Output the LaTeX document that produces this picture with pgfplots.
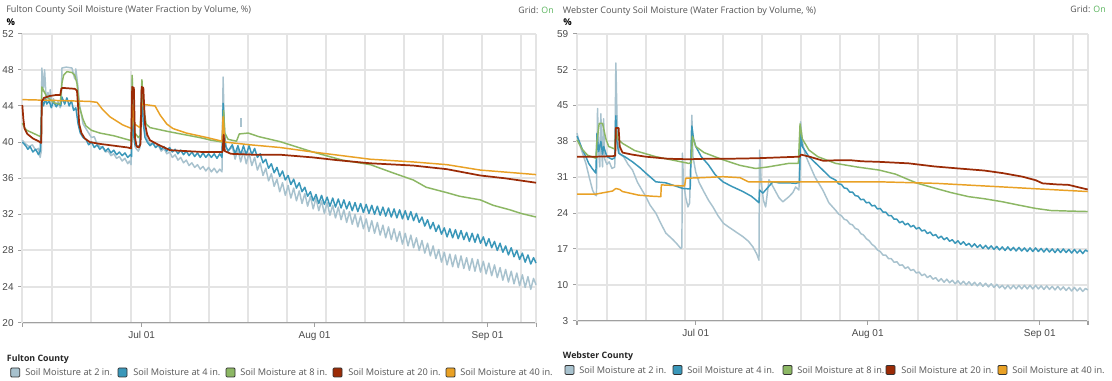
\documentclass[border=0pt]{standalone}
\usepackage{pgfplots}
\pgfplotsset{compat=1.18}
\usepackage{fontspec}
\setmainfont{Open Sans}
\newfontfamily\tickfont{Liberation Sans}
\definecolor{cA}{HTML}{A8C2CE}
\definecolor{cB}{HTML}{3A97B9}
\definecolor{cC}{HTML}{8CB764}
\definecolor{cD}{HTML}{9B2B06}
\definecolor{cE}{HTML}{E9A125}
\definecolor{gridc}{HTML}{E4E4E4}
\definecolor{axc}{HTML}{A0A0A0}
\definecolor{tickc}{HTML}{4A4A4A}
\definecolor{titc}{HTML}{555555}
\definecolor{ongreen}{HTML}{5BB55E}
\definecolor{swb}{HTML}{333333}
\pgfplotsset{soil/.style={
  scale only axis, anchor=south west,
  axis x line*=bottom, axis y line*=left,
  xmin=-21.4, xmax=70.7,
  xtick={0,31,62}, xticklabels={Jul 01,Aug 01,Sep 01},
  minor xtick={-16,-9,-2,5,12,19,26,33,40,47,54,61,68},
  xminorgrids=true, ymajorgrids=true,
  grid style={draw=gridc, line width=1.5pt},
  minor grid style={draw=gridc, line width=1.5pt},
  major grid style={draw=gridc, line width=1.5pt},
  axis line style={draw=axc, line width=1.1pt},
  tick style={draw=axc, line width=0.8pt},
  major tick length=3pt, minor tick length=0pt,
  tick align=outside,
  extra x ticks={-21.4,70.7}, extra x tick labels={},
  extra x tick style={xmajorgrids=true, major grid style={draw=gridc, line width=1.5pt}},
  ticklabel style={font=\tickfont\fontsize{7.5}{9}\selectfont, text=tickc},
  /pgf/number format/assume math mode=true,
  every axis plot/.append style={line width=1.1pt, line join=round, no marks},
  clip=false,
}}
\begin{document}
\begin{tikzpicture}
\path[use as bounding box, fill=white] (0pt,0pt) rectangle (834pt,285.75pt);
% ---------------- left chart ----------------
\begin{axis}[soil, at={(16.725pt,43.725pt)}, width=385.3pt, height=216.75pt,
  ymin=20, ymax=52, ytick={20,24,28,32,36,40,44,48,52}]
\pgfplotsinvokeforeach{24,28,32,36,40,44,48,52}{\draw[gridc, line width=1.5pt] (axis cs:-21.4,#1) -- (axis cs:70.7,#1);}
\draw[gridc, line width=1.5pt] (axis cs:70.7,20) -- (axis cs:70.7,52);
\addplot[cA] coordinates {(-21.4,40.2) (-20.8,39.8) (-20.2,39.5) (-19.6,39.7) (-19.0,39.1) (-18.5,39.3) (-18.2,38.3) (-18.0,39.0) (-17.9,48.2) (-17.6,46.0) (-17.4,48.0) (-17.1,44.5) (-16.8,45.5) (-16.5,44.3) (-16.4,45.8) (-16.1,44.2) (-15.8,44.8) (-15.4,44.0) (-15.0,44.5) (-14.6,43.8) (-14.4,44.6) (-14.3,48.2) (-13.5,48.3) (-12.5,48.2) (-12.0,47.0) (-11.8,48.1) (-11.4,46.0) (-11.1,44.0) (-10.5,42.0) (-10.0,41.5) (-9.5,41.0) (-9.0,40.5) (-8.5,40.6) (-8.0,39.8) (-7.5,39.5) (-7.0,39.4) (-6.5,38.9) (-6.0,39.0) (-5.5,38.5) (-5.0,38.7) (-4.5,38.2) (-4.0,38.4) (-3.5,37.9) (-3.0,38.2) (-2.5,37.6) (-2.2,37.9) (-1.9,37.5) (-1.7,47.0) (-1.5,42.0) (-1.2,39.5) (-0.9,39.2) (-0.6,39.0) (-0.3,39.4) (0.0,46.5) (0.2,44.0) (0.5,41.5) (1.0,40.3) (1.5,39.8) (2.0,39.9) (2.5,39.4) (3.0,39.6) (3.5,39.0) (4.0,39.3) (4.5,38.7) (5.0,38.9) (5.5,38.3) (6.0,38.6) (6.5,38.0) (7.0,38.3) (7.5,37.7) (8.0,38.0) (8.5,37.4) (9.0,37.7) (9.5,37.2) (10.0,37.5) (10.5,37.0) (11.0,37.3) (11.5,36.8) (12.0,37.2) (12.5,36.7) (13.0,37.1) (13.5,36.6) (14.0,37.0) (14.4,36.7) (14.6,47.2) (14.8,42.0) (15.1,39.5) (15.5,39.0)
(16.25,39.5) (16.75,38.1) (17.25,39.2) (17.75,37.8) (18.25,39.0) (18.75,37.6) (19.25,38.8) (19.75,37.4) (20.25,38.3) (20.75,36.9) (21.25,37.7) (21.75,36.3) (22.25,37.1) (22.75,35.7) (23.25,36.5) (23.75,35.1) (24.25,35.9) (24.75,34.5) (25.25,35.5) (25.75,34.1) (26.25,35.2) (26.75,33.8) (27.25,34.9) (27.75,33.5) (28.25,34.6) (28.75,33.2) (29.25,34.3) (29.75,32.9) (30.25,34.0) (30.75,32.6) (31.25,33.8) (31.75,32.4) (32.25,33.5) (32.75,32.1) (33.25,33.3) (33.75,31.9) (34.25,33.0) (34.75,31.6) (35.25,32.8) (35.75,31.4) (36.25,32.5) (36.75,31.1) (37.25,32.3) (37.75,30.9) (38.25,32.0) (38.75,30.6) (39.25,31.8) (39.75,30.4) (40.25,31.5) (40.75,30.1) (41.25,31.3) (41.75,29.9) (42.25,31.1) (42.75,29.7) (43.25,30.8) (43.75,29.4) (44.25,30.6) (44.75,29.2) (45.25,30.4) (45.75,29.0) (46.25,30.1) (46.75,28.7) (47.25,29.9) (47.75,28.5) (48.25,29.7) (48.75,28.3) (49.25,29.4) (49.75,28.0) (50.25,29.1) (50.75,27.7) (51.25,28.8) (51.75,27.4) (52.25,28.5) (52.75,27.1) (53.25,28.1) (53.75,26.7) (54.25,27.8) (54.75,26.4) (55.25,27.6) (55.75,26.2) (56.25,27.5) (56.75,26.1) (57.25,27.4) (57.75,26.0) (58.25,27.2) (58.75,25.8) (59.25,27.1) (59.75,25.7) (60.25,27.0) (60.75,25.6) (61.25,26.8) (61.75,25.4) (62.25,26.6) (62.75,25.2) (63.25,26.4) (63.75,25.0) (64.25,26.1) (64.75,24.7) (65.25,25.9) (65.75,24.5) (66.25,25.7) (66.75,24.3) (67.25,25.5) (67.75,24.1) (68.25,25.3) (68.75,23.9) (69.25,25.1) (69.75,23.7) (70.25,24.9) (70.7,24.2)};
\addplot[cA] coordinates {(17.8,41.7) (17.8,42.7)};
\addplot[cB] coordinates {(-21.4,40.0) (-20.8,39.6) (-20.4,39.2) (-20.0,39.5) (-19.5,38.9) (-19.0,39.2) (-18.5,38.6) (-18.2,39.0) (-17.9,44.7) (-17.6,44.0) (-17.3,44.8) (-17.0,44.2) (-16.6,44.6) (-16.2,43.8) (-15.8,44.5) (-15.3,43.9) (-14.9,44.3) (-14.5,44.0) (-14.3,45.0) (-13.8,44.2) (-13.4,44.9) (-13.0,44.0) (-12.6,44.6) (-12.2,43.5) (-11.8,43.8) (-11.4,42.0) (-11.0,41.0) (-10.5,40.5) (-10.0,40.3) (-9.5,39.7) (-9.0,40.0) (-8.5,39.4) (-8.0,39.7) (-7.5,39.2) (-7.0,39.5) (-6.5,39.0) (-6.0,39.3) (-5.5,38.8) (-5.0,39.1) (-4.5,38.6) (-4.0,38.9) (-3.5,38.5) (-3.0,38.8) (-2.5,38.3) (-2.0,38.6) (-1.8,38.4) (-1.7,45.0) (-1.5,41.0) (-1.2,39.7) (-0.6,39.5) (-0.3,39.7) (0.0,45.5) (0.3,42.0) (0.6,40.5) (1.0,40.0) (1.5,39.6) (2.0,39.9) (2.5,39.4) (3.0,39.7) (3.5,39.2) (4.0,39.5) (4.5,39.0) (5.0,39.4) (5.5,38.9) (6.0,39.2) (6.5,38.7) (7.0,39.1) (7.5,38.6) (8.0,39.0) (8.5,38.5) (9.0,38.9) (9.5,38.4) (10.0,38.8) (10.5,38.3) (11.0,38.8) (11.5,38.3) (12.0,38.7) (12.5,38.3) (13.0,38.7) (13.5,38.2) (14.0,38.7) (14.4,38.3) (14.6,44.3) (14.8,41.0) (15.1,39.5) (15.5,39.0)
(16.25,39.7) (16.75,38.7) (17.25,39.6) (17.75,38.6) (18.25,39.6) (18.75,38.6) (19.25,39.6) (19.75,38.6) (20.25,39.3) (20.75,38.3) (21.25,38.7) (21.75,37.7) (22.25,38.1) (22.75,37.1) (23.25,37.6) (23.75,36.6) (24.25,37.2) (24.75,36.2) (25.25,36.8) (25.75,35.8) (26.25,36.3) (26.75,35.3) (27.25,35.9) (27.75,34.9) (28.25,35.5) (28.75,34.5) (29.25,35.0) (29.75,34.0) (30.25,34.5) (30.75,33.5) (31.25,34.2) (31.75,33.2) (32.25,34.1) (32.75,33.1) (33.25,33.9) (33.75,32.9) (34.25,33.8) (34.75,32.8) (35.25,33.7) (35.75,32.7) (36.25,33.6) (36.75,32.6) (37.25,33.4) (37.75,32.4) (38.25,33.3) (38.75,32.3) (39.25,33.2) (39.75,32.2) (40.25,33.1) (40.75,32.1) (41.25,33.0) (41.75,32.0) (42.25,32.9) (42.75,31.9) (43.25,32.8) (43.75,31.8) (44.25,32.7) (44.75,31.7) (45.25,32.6) (45.75,31.6) (46.25,32.5) (46.75,31.5) (47.25,32.4) (47.75,31.4) (48.25,32.3) (48.75,31.3) (49.25,32.1) (49.75,31.1) (50.25,31.7) (50.75,30.7) (51.25,31.4) (51.75,30.4) (52.25,31.1) (52.75,30.1) (53.25,30.8) (53.75,29.8) (54.25,30.5) (54.75,29.5) (55.25,30.4) (55.75,29.4) (56.25,30.3) (56.75,29.3) (57.25,30.2) (57.75,29.2) (58.25,30.0) (58.75,29.0) (59.25,29.9) (59.75,28.9) (60.25,29.8) (60.75,28.8) (61.25,29.5) (61.75,28.5) (62.25,29.3) (62.75,28.3) (63.25,29.0) (63.75,28.0) (64.25,28.8) (64.75,27.8) (65.25,28.5) (65.75,27.5) (66.25,28.3) (66.75,27.3) (67.25,28.0) (67.75,27.0) (68.25,27.7) (68.75,26.7) (69.25,27.5) (69.75,26.5) (70.25,27.2) (70.7,26.6)};
\addplot[cC] coordinates {(-21.4,42.1) (-21.0,41.6) (-20.6,41.3) (-19.5,41.0) (-18.5,40.7) (-18.0,40.6) (-17.9,46.1) (-17.5,45.6) (-17.0,45.0) (-16.4,44.7) (-15.5,44.3) (-14.6,44.2) (-14.3,46.5) (-14.0,47.4) (-13.4,47.8) (-12.5,47.7) (-12.0,47.4) (-11.6,46.5) (-11.2,44.0) (-10.5,42.5) (-10.0,41.8) (-9.0,41.3) (-7.5,41.0) (-5.0,40.7) (-2.1,40.2) (-1.8,40.1) (-1.7,47.4) (-1.5,43.0) (-1.2,41.0) (-0.6,40.5) (-0.2,40.8) (0.05,46.9) (0.3,44.0) (0.8,42.0) (1.5,41.6) (3.0,41.4) (4.5,41.2) (7.0,40.9) (10.4,40.5) (12.5,40.2) (14.5,40.0) (14.7,43.5) (14.9,41.0) (15.5,40.3) (17.0,40.1) (17.5,40.9) (19.1,41.0) (21.0,40.6) (24.8,40.05) (30.7,38.9) (36.0,38.0) (41.0,37.5) (45.0,36.6) (48.7,35.8) (51.0,35.0) (54.7,34.4) (57.0,34.0) (60.7,33.6) (63.0,33.0) (66.0,32.5) (68.0,32.1) (70.7,31.7)};
\addplot[cE] coordinates {(-21.4,44.7) (-15.0,44.6) (-9.3,44.5) (-8.0,44.4) (-7.0,43.6) (-5.7,42.8) (-3.4,41.9) (-1.8,41.5) (-1.6,44.0) (-1.3,42.0) (-0.3,41.6) (0.0,44.2) (2.4,44.0) (3.3,43.0) (4.5,42.0) (5.6,41.5) (8.0,41.0) (11.7,40.5) (14.4,40.1) (14.6,42.8) (14.9,40.0) (19.4,39.7) (24.8,39.4) (30.7,38.9) (41.0,38.1) (48.7,37.8) (54.7,37.5) (60.7,36.9) (70.7,36.4)};
\addplot[cD, line width=1.3pt] coordinates {(-21.4,44.1) (-21.2,42.5) (-21.0,41.5) (-20.5,40.9) (-19.5,40.4) (-18.5,40.1) (-18.0,39.9) (-17.9,44.5) (-17.5,44.9) (-16.5,45.1) (-15.5,45.2) (-14.6,45.2) (-14.4,45.9) (-14.2,46.0) (-12.0,45.9) (-11.6,45.7) (-11.4,44.0) (-11.2,42.0) (-10.8,41.0) (-10.2,40.4) (-9.3,40.0) (-7.5,39.8) (-5.0,39.6) (-2.5,39.4) (-1.9,39.3) (-1.7,46.1) (-1.4,46.0) (-1.2,40.5) (-0.9,39.5) (-0.5,39.4) (-0.2,39.8) (0.0,46.1) (0.3,46.0) (0.6,42.0) (1.0,40.8) (1.5,40.2) (3.0,39.7) (5.1,39.1) (8.0,39.0) (11.0,38.9) (14.5,38.9) (14.7,40.8) (14.9,39.0) (16.0,38.7) (20.0,38.6) (24.8,38.6) (30.7,38.3) (35.0,38.0) (41.0,37.65) (48.7,37.4) (54.7,37.0) (60.7,36.3) (65.0,36.0) (70.7,35.5)};
\end{axis}
% ---------------- right chart ----------------
\begin{axis}[soil, at={(432.75pt,45.225pt)}, width=383.25pt, height=215.25pt,
  ymin=3, ymax=59, ytick={3,10,17,24,31,38,45,52,59}]
\pgfplotsinvokeforeach{10,17,24,31,38,45,52,59}{\draw[gridc, line width=1.5pt] (axis cs:-21.4,#1) -- (axis cs:70.7,#1);}
\draw[gridc, line width=1.5pt] (axis cs:70.7,3) -- (axis cs:70.7,59);
\addplot[cA] coordinates {(-21.4,39.6) (-20.8,37.0) (-20.2,35.0) (-19.8,33.7) (-19.2,31.0) (-18.6,28.5) (-18.2,27.6) (-17.9,27.4) (-17.7,44.4) (-17.5,36.0) (-17.3,33.0) (-17.1,43.4) (-16.9,35.0) (-16.8,33.0) (-16.6,42.4) (-16.4,34.5) (-16.0,33.5) (-15.6,34.0) (-15.1,32.7) (-14.6,33.0) (-14.4,53.3) (-14.2,43.4) (-14.0,38.0) (-13.7,35.5) (-13.0,35.0) (-12.2,33.5) (-11.4,32.4) (-10.5,30.0) (-9.0,27.2) (-8.2,25.5) (-7.2,24.0) (-6.3,22.0) (-5.4,20.1) (-4.8,19.5) (-4.1,18.8) (-3.4,18.0) (-2.7,17.1) (-2.5,17.3) (-2.4,35.7) (-2.2,30.0) (-1.8,27.0) (-1.4,25.2) (-1.1,26.0) (-0.7,43.1) (-0.5,35.0) (0.0,32.0) (0.6,30.0) (1.3,28.5) (2.3,26.5) (3.1,25.2) (4.0,23.5) (5.0,22.0) (5.9,21.3) (7.0,20.5) (8.5,19.4) (9.5,18.5) (10.3,17.4) (11.0,16.0) (11.4,14.8) (11.5,36.3) (11.8,30.0) (12.2,26.5) (12.6,25.2) (13.2,30.5) (13.6,29.8) (14.3,28.4) (15.0,27.0) (15.7,26.2) (16.8,27.2) (17.5,28.0) (18.0,29.1) (18.6,28.5) (18.9,41.8) (19.2,38.0) (19.7,35.5) (20.4,33.7) (21.5,31.0) (22.9,28.5) (24.0,26.0)
(25.25,24.5) (25.75,23.8) (26.25,23.5) (26.75,22.8) (27.25,22.6) (27.75,21.9) (28.25,21.7) (28.75,21.0) (29.25,20.8) (29.75,20.0) (30.25,19.7) (30.75,19.0) (31.25,18.6) (31.75,17.9) (32.25,17.5) (32.75,16.8) (33.25,16.5) (33.75,15.8) (34.25,15.8) (34.75,15.1) (35.25,15.1) (35.75,14.4) (36.25,14.5) (36.75,13.8) (37.25,13.9) (37.75,13.2) (38.25,13.5) (38.75,12.8) (39.25,13.0) (39.75,12.3) (40.25,12.5) (40.75,11.8) (41.25,12.1) (41.75,11.4) (42.25,11.8) (42.75,11.1) (43.25,11.4) (43.75,10.7) (44.25,11.2) (44.75,10.5) (45.25,11.1) (45.75,10.4) (46.25,10.9) (46.75,10.2) (47.25,10.8) (47.75,10.1) (48.25,10.7) (48.75,10.0) (49.25,10.6) (49.75,9.9) (50.25,10.5) (50.75,9.8) (51.25,10.4) (51.75,9.7) (52.25,10.3) (52.75,9.6) (53.25,10.2) (53.75,9.5) (54.25,10.1) (54.75,9.4) (55.25,9.9) (55.75,9.2) (56.25,9.9) (56.75,9.2) (57.25,9.9) (57.75,9.2) (58.25,9.9) (58.75,9.2) (59.25,9.9) (59.75,9.2) (60.25,9.9) (60.75,9.2) (61.25,9.9) (61.75,9.2) (62.25,9.8) (62.75,9.1) (63.25,9.8) (63.75,9.1) (64.25,9.7) (64.75,9.0) (65.25,9.7) (65.75,9.0) (66.25,9.6) (66.75,8.9) (67.25,9.5) (67.75,8.8) (68.25,9.5) (68.75,8.8) (69.25,9.4) (69.75,8.7) (70.25,9.3) (70.65,9.0)};
\addplot[cB] coordinates {(-21.4,39.0) (-21.0,38.0) (-20.4,36.3) (-19.8,35.0) (-19.3,33.7) (-18.6,32.6) (-18.0,31.8) (-17.8,39.5) (-17.5,36.0) (-17.1,38.0) (-16.8,35.5) (-16.6,37.0) (-16.0,35.0) (-15.1,34.5) (-14.6,34.8) (-14.4,43.0) (-14.2,38.0) (-13.9,35.7) (-12.5,34.8) (-11.4,34.0) (-10.0,32.8) (-9.0,31.8) (-7.2,30.1) (-5.4,29.9) (-4.0,29.4) (-2.3,28.8) (-1.0,28.7) (-0.7,41.0) (-0.4,38.5) (0.0,37.0) (1.0,35.0) (2.3,33.4) (3.5,31.5) (4.9,30.1) (6.5,29.2) (8.5,28.2) (10.0,27.3) (10.8,26.6) (11.4,26.0) (11.5,28.5) (12.1,27.9) (13.0,29.0) (13.9,30.1) (15.0,29.9) (16.8,29.9) (18.0,29.8) (18.7,30.0) (18.9,40.0) (19.2,37.0) (20.4,35.0) (22.9,32.4) (24.2,31.0)
(25.25,30.4) (25.75,29.7) (26.25,29.6) (26.75,28.9) (27.25,28.8) (27.75,28.1) (28.25,28.1) (28.75,27.4) (29.25,27.3) (29.75,26.6) (30.25,26.7) (30.75,26.0) (31.25,26.1) (31.75,25.4) (32.25,25.5) (32.75,24.8) (33.25,24.9) (33.75,24.2) (34.25,24.2) (34.75,23.5) (35.25,23.5) (35.75,22.8) (36.25,22.8) (36.75,22.1) (37.25,22.4) (37.75,21.7) (38.25,22.0) (38.75,21.3) (39.25,21.6) (39.75,20.9) (40.25,21.2) (40.75,20.5) (41.25,20.7) (41.75,20.0) (42.25,20.3) (42.75,19.6) (43.25,19.8) (43.75,19.1) (44.25,19.5) (44.75,18.8) (45.25,19.2) (45.75,18.5) (46.25,18.8) (46.75,18.1) (47.25,18.6) (47.75,17.9) (48.25,18.4) (48.75,17.7) (49.25,18.1) (49.75,17.4) (50.25,18.0) (50.75,17.3) (51.25,17.8) (51.75,17.1) (52.25,17.7) (52.75,17.0) (53.25,17.6) (53.75,16.9) (54.25,17.5) (54.75,16.8) (55.25,17.4) (55.75,16.7) (56.25,17.4) (56.75,16.7) (57.25,17.3) (57.75,16.6) (58.25,17.3) (58.75,16.6) (59.25,17.2) (59.75,16.5) (60.25,17.2) (60.75,16.5) (61.25,17.2) (61.75,16.5) (62.25,17.1) (62.75,16.4) (63.25,17.1) (63.75,16.4) (64.25,17.0) (64.75,16.3) (65.25,17.0) (65.75,16.3) (66.25,17.0) (66.75,16.3) (67.25,16.9) (67.75,16.2) (68.25,16.9) (68.75,16.2) (69.25,16.8) (69.75,16.1) (70.25,16.8) (70.65,16.5)};
\addplot[cC] coordinates {(-21.4,38.3) (-20.5,36.5) (-19.5,35.3) (-18.0,34.7) (-17.8,38.0) (-17.4,41.5) (-16.8,41.5) (-16.2,38.5) (-15.7,37.0) (-14.6,36.5) (-14.4,40.5) (-14.1,38.5) (-13.2,37.6) (-11.0,36.2) (-7.2,35.0) (-4.0,34.3) (-1.3,33.7) (-0.8,33.8) (-0.6,39.0) (-0.3,38.0) (0.0,37.0) (1.5,35.8) (4.9,34.4) (8.0,33.3) (10.8,32.7) (13.0,33.0) (16.8,33.7) (18.5,33.7) (18.8,41.4) (19.2,38.5) (20.4,36.3) (22.0,35.0) (25.2,33.7) (29.0,33.0) (33.0,32.4) (36.0,31.6) (38.4,30.5) (40.0,29.8) (43.3,28.8) (46.0,28.0) (49.2,27.2) (52.0,26.8) (55.3,26.2) (58.0,25.6) (61.3,24.9) (64.0,24.5) (67.0,24.4) (70.65,24.3)};
\addplot[cE] coordinates {(-21.4,27.7) (-18.0,27.7) (-16.5,28.0) (-15.0,28.3) (-14.4,28.8) (-13.7,28.6) (-13.2,28.2) (-10.3,27.5) (-8.0,27.3) (-6.3,27.2) (-6.2,29.5) (-2.3,29.3) (-2.0,29.3) (-1.8,30.8) (1.0,30.9) (4.9,31.1) (8.0,30.9) (9.5,30.1) (15.0,30.1) (25.2,30.1) (33.0,30.1) (43.3,29.8) (55.3,29.1) (62.0,28.7) (70.65,28.2)};
\addplot[cD, line width=1.3pt] coordinates {(-21.4,35.0) (-18.0,35.0) (-15.0,35.1) (-14.5,35.2) (-14.4,40.6) (-13.9,40.6) (-13.7,37.0) (-13.2,35.8) (-11.4,35.4) (-9.0,35.0) (-5.0,34.6) (-1.3,34.5) (2.0,34.6) (6.0,34.6) (11.0,34.7) (16.0,34.9) (18.7,35.0) (19.0,35.4) (20.5,35.0) (23.0,34.2) (25.2,34.3) (28.0,34.3) (30.0,34.1) (33.0,34.0) (38.4,33.7) (43.0,33.1) (47.4,32.7) (52.0,32.3) (55.3,31.8) (58.9,31.1) (61.3,30.4) (62.5,29.8) (65.0,29.6) (67.2,29.5) (70.65,28.6)};
\end{axis}
% ---------------- texts ----------------
\begin{scope}[every node/.style={inner sep=0pt, font=\fontsize{6.8}{8}\selectfont, text=titc}]
\node[anchor=west] at (4.5pt,277.9pt) {Fulton County Soil Moisture (Water Fraction by Volume, \%)};
\node[anchor=west, font=\fontsize{7}{8}\selectfont\bfseries, text=black] at (4.8pt,269.3pt) {\%};
\node[anchor=east, font=\fontsize{6.6}{8}\selectfont] at (415.5pt,277.9pt) {Grid: \textcolor{ongreen}{On}};
\node[anchor=west] at (422pt,277.5pt) {Webster County Soil Moisture (Water Fraction by Volume, \%)};
\node[anchor=west, font=\fontsize{7}{8}\selectfont\bfseries, text=black] at (422.3pt,268.9pt) {\%};
\node[anchor=east, font=\fontsize{6.6}{8}\selectfont] at (829.5pt,279pt) {Grid: \textcolor{ongreen}{On}};
\node[anchor=west, font=\fontsize{6.6}{8}\selectfont\bfseries, text=black!85] at (5pt,16.5pt) {Fulton County};
\node[anchor=west, font=\fontsize{6.6}{8}\selectfont\bfseries, text=black!85] at (422pt,18.75pt) {Webster County};
\end{scope}
\begin{scope}[every node/.style={inner sep=0pt, anchor=west, font=\fontsize{6.9}{8}\selectfont, text=titc}]
\foreach \sx/\tx/\c/\l in {8.0/18.75/cA/2, 88.5/99.75/cB/4, 169.5/180/cC/8, 249.75/261/cD/20, 334.5/345/cE/40}{
  \filldraw[fill=\c, draw=swb, line width=0.6pt, rounded corners=0.8pt] (\sx pt,3.0pt) rectangle ++(6.75pt,6.75pt);
  \node at (\tx pt,6.4pt) {Soil Moisture at \l\ in.};
}
\foreach \sx/\tx/\c/\l in {423.75/434.25/cA/2, 504.75/515.25/cB/4, 587.25/597.75/cC/8, 664.5/675.75/cD/20, 748.5/759/cE/40}{
  \filldraw[fill=\c, draw=swb, line width=0.6pt, rounded corners=0.8pt] (\sx pt,4.9pt) rectangle ++(6.75pt,6.75pt);
  \node at (\tx pt,8.25pt) {Soil Moisture at \l\ in.};
}
\end{scope}
\end{tikzpicture}
\end{document}
